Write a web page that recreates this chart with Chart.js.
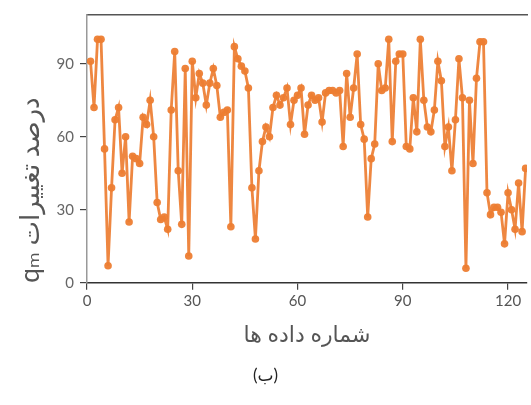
<!DOCTYPE html>
<html lang="fa">
<head>
<meta charset="utf-8">
<script src="https://cdn.jsdelivr.net/npm/chart.js@4/dist/chart.umd.min.js"></script>
<style>
  html, body { margin: 0; padding: 0; background: #ffffff; overflow: hidden; }
  #wrap { position: relative; width: 531px; height: 405px; }
  #chart { direction: rtl; }
</style>
</head>
<body>
<div id="wrap"><canvas id="chart" width="531" height="405"></canvas></div>
<script>
// Percentage change of q_m for each data record
const qmChange = [
  91, 72, 100, 100, 55, 7, 39, 67, 72, 45,
  60, 25, 52, 51, 49, 68, 65, 75, 60, 33,
  26, 27, 22, 71, 95, 46, 24, 88, 11, 91,
  76, 86, 82, 73, 82, 88, 81, 68, 70, 71,
  23, 97, 92, 89, 87, 80, 39, 18, 46, 58,
  64, 60, 72, 77, 73, 76, 80, 65, 75, 77,
  80, 61, 73, 77, 75, 76, 66, 78, 79, 79,
  78, 79, 56, 86, 68, 80, 94, 65, 59, 27,
  51, 57, 90, 79, 80, 100, 58, 91, 94, 94,
  56, 55, 76, 62, 100, 75, 64, 62, 71, 91,
  83, 56, 64, 46, 67, 92, 76, 6, 75, 49,
  84, 99, 99, 37, 28, 31, 31, 29, 16, 37,
  30, 22, 41, 21, 47
];
// Record numbers (1-based)
const recordNo = qmChange.map((_, i) => i + 1);

const xTicks = [0, 30, 60, 90, 120];
const yTicks = [0, 30, 60, 90];

const xTitle = 'شماره داده ها';
const yTitle = 'درصد تغییرات qₘ';
const caption = '(ب)';

const orange = '#ED7D31';
const fontFamily = 'Lato, "DejaVu Sans", sans-serif';

const points = recordNo.map((x, i) => ({ x: x, y: qmChange[i] }));

new Chart(document.getElementById('chart'), {
  type: 'line',
  data: {
    datasets: [{
      data: points,
      borderColor: 'rgba(237,125,49,0.92)',
      backgroundColor: orange,
      borderWidth: 2.8,
      pointRadius: 3.8,
      pointBorderWidth: 0,
      pointBackgroundColor: 'rgba(237,125,49,0.95)',
      tension: 0
    }]
  },
  options: {
    responsive: false,
    animation: false,
    devicePixelRatio: 1,
    layout: { padding: { left: 0, right: 0, top: 12, bottom: 0 } },
    plugins: {
      legend: { display: false },
      tooltip: { enabled: false },
      title: {
        display: true,
        text: caption,
        position: 'bottom',
        color: '#222',
        font: { family: fontFamily, size: 17, weight: 'normal' },
        padding: { top: 0, bottom: 19 }
      }
    },
    scales: {
      x: {
        type: 'linear',
        position: 'bottom',
        min: 0,
        max: 125.4,
        afterBuildTicks: (s) => { s.ticks = xTicks.map(v => ({ value: v })); },
        afterFit: (s) => { s.height = 82.8; },
        ticks: {
          color: '#555',
          font: { family: fontFamily, size: 15 },
          padding: 2,
          maxRotation: 0
        },
        grid: {
          display: true,
          drawOnChartArea: false,
          drawTicks: true,
          tickLength: 7,
          color: '#444',
          lineWidth: 1.2
        },
        border: { display: true, color: '#333', width: 1.5 },
        title: {
          display: true,
          text: xTitle,
          color: '#555',
          font: { family: fontFamily, size: 22 },
          padding: { top: 0, bottom: 17 }
        }
      },
      xTop: {
        type: 'linear',
        position: 'top',
        min: 0,
        max: 125.4,
        afterFit: (s) => { s.height = 0; },
        ticks: { display: false },
        grid: { display: false, drawTicks: false },
        border: { display: true, color: '#555', width: 1.5 }
      },
      y: {
        type: 'linear',
        position: 'left',
        min: 0,
        max: 110,
        afterBuildTicks: (s) => { s.ticks = yTicks.map(v => ({ value: v })); },
        afterFit: (s) => { s.width = 87; },
        ticks: {
          color: '#666',
          font: { family: fontFamily, size: 15 },
          padding: 6
        },
        grid: {
          display: true,
          drawOnChartArea: false,
          drawTicks: true,
          tickLength: 7,
          color: '#444',
          lineWidth: 1.2
        },
        border: { display: true, color: '#999', width: 1.5 },
        title: {
          display: true,
          text: yTitle,
          align: 'start',
          color: '#555',
          font: { family: fontFamily, size: 26 },
          padding: { top: 15, bottom: 0 }
        }
      }
    }
  }
});
</script>
</body>
</html>
